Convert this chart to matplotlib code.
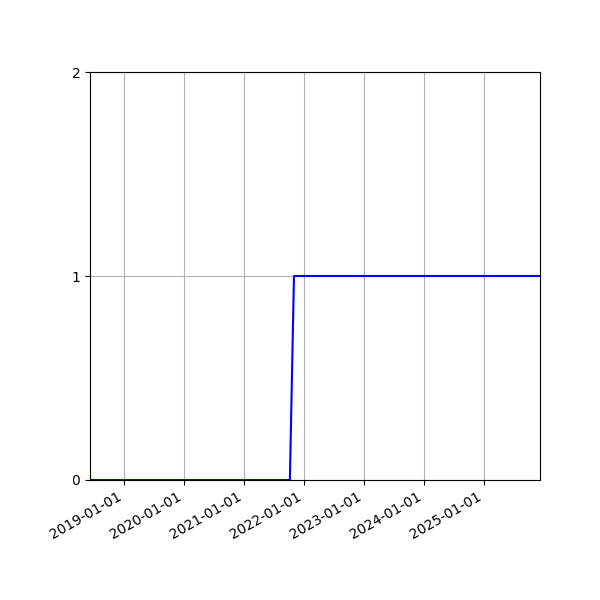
import numpy as np
import matplotlib
matplotlib.use('Agg')
import matplotlib.pyplot as plt
import matplotlib.dates as mdates

# step series: 0 until autumn 2021, then 1
dates = np.array(['2018-06-08', '2021-10-07', '2021-11-01', '2025-12-08'], dtype='datetime64[D]')
values = [0, 0, 1, 1]
yticks = [0, 1, 2]

fig, ax = plt.subplots(figsize=(6, 6), dpi=100)
ax.plot(dates, values, color='blue')
ax.set_xlim(dates[0], dates[-1])
ax.set_ylim(0, 2)
ax.set_yticks(yticks)
ax.xaxis.set_major_locator(mdates.YearLocator())
ax.xaxis.set_major_formatter(mdates.DateFormatter('%Y-%m-%d'))
ax.grid(True)
fig.autofmt_xdate()
fig.subplots_adjust(left=0.15, right=0.9, top=0.88, bottom=0.2)

fig.savefig('out.png')
